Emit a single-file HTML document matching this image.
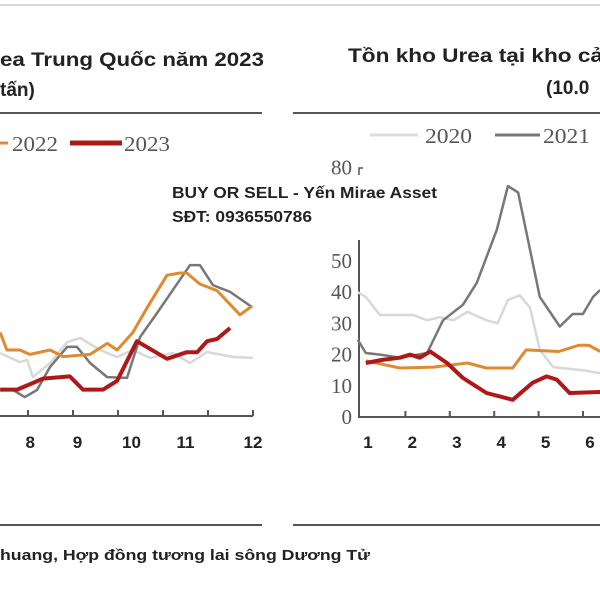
<!DOCTYPE html>
<html><head><meta charset="utf-8"><style>
body{margin:0;width:600px;height:600px;background:#fff;overflow:hidden}
svg{display:block}
.t{font-family:"Liberation Sans",sans-serif;font-weight:bold;fill:#222}
.s{font-family:"Liberation Serif",serif;fill:#555}
</style></head><body>
<svg id="c" width="600" height="600">
<line x1="0" y1="5" x2="600" y2="5" stroke="#ccc" stroke-width="1.5"/>
<text class="t" x="0" y="66" font-size="19" textLength="264" lengthAdjust="spacingAndGlyphs">ea Trung Quốc năm 2023</text>
<text class="t" x="0" y="96" font-size="19">tấn)</text>
<text class="t" x="348" y="62" font-size="19" textLength="255" lengthAdjust="spacingAndGlyphs">Tồn kho Urea tại kho cả</text>
<text class="t" x="546" y="94" font-size="19">(10.0</text>
<line x1="0" y1="113" x2="262" y2="113" stroke="#555" stroke-width="2"/>
<line x1="293" y1="113" x2="600" y2="113" stroke="#555" stroke-width="2"/>
<line x1="0" y1="525" x2="262" y2="525" stroke="#555" stroke-width="2"/>
<line x1="293" y1="525" x2="600" y2="525" stroke="#555" stroke-width="2"/>
<g>
<line x1="0" y1="143" x2="8" y2="143" stroke="#e08a30" stroke-width="3"/>
<text class="s" x="12" y="151" font-size="21" textLength="46" lengthAdjust="spacingAndGlyphs">2022</text>
<line x1="70" y1="143" x2="122" y2="143" stroke="#b01818" stroke-width="5"/>
<text class="s" x="124" y="151" font-size="21" textLength="46" lengthAdjust="spacingAndGlyphs">2023</text>
</g>
<g>
<line x1="370" y1="135" x2="418" y2="135" stroke="#ddd" stroke-width="3"/>
<text class="s" x="425" y="143" font-size="21" textLength="47" lengthAdjust="spacingAndGlyphs">2020</text>
<line x1="495" y1="135" x2="540" y2="135" stroke="#777" stroke-width="3"/>
<text class="s" x="543" y="143" font-size="21" textLength="47" lengthAdjust="spacingAndGlyphs">2021</text>
</g>
<g id="L"></g>
<g id="R"></g>
<text class="t" x="172" y="198" font-size="16" textLength="265" lengthAdjust="spacingAndGlyphs">BUY OR SELL - Yến Mirae Asset</text>
<text class="t" x="172" y="222" font-size="16" textLength="140" lengthAdjust="spacingAndGlyphs">SĐT: 0936550786</text>
<text class="t" x="0" y="560" font-size="15" textLength="370" lengthAdjust="spacingAndGlyphs">huang, Hợp đồng tương lai sông Dương Tử</text>
</svg>
<script>
// Left chart (month position, value units)
const leftTicks=["8","9","10","11","12"];
const l2020x=[7.38,7.82,7.98,8.11,8.49,8.87,9.16,9.60,9.98,10.33,10.71,11.22,11.60,11.98,12.56,13.0];
const l2020v=[28.6,24.5,25.5,17.7,24.1,33.6,35.5,30,26.8,30,26.4,28.6,24.1,29.1,26.8,26.4];
const l2021x=[7.67,7.93,8.20,8.49,8.87,9.09,9.38,9.76,10.20,10.49,10.87,11.22,11.60,11.82,12.11,12.49,12.98];
const l2021v=[11.8,8.6,11.8,22.3,31.4,31.4,24.1,17.7,17.3,35.9,46.8,57.3,68.6,68.6,59.5,56.4,49.5];
const l2022x=[7.38,7.53,7.82,8.04,8.49,8.78,9.38,9.76,9.98,10.33,10.64,11.09,11.38,11.53,11.82,12.20,12.71,12.98];
const l2022v=[38,30,30,28,30,27,28,33,30,38,49,64,65,65,60,57,46,50];
const l2023x=[7.38,7.76,8.11,8.33,8.93,9.22,9.67,9.98,10.42,11.09,11.53,11.76,11.98,12.20,12.49];
const l2023v=[12,12,15,17,18,12,12,16,34,26,29,29,34,35,40];
// Right chart
const rTicks=["1","2","3","4","5","6"];
const rY=[0,10,20,30,40,50,80];
const r2020x=[0.77,0.95,1.27,2.02,2.33,2.62,2.92,3.24,3.67,3.92,4.15,4.42,4.65,4.87,5.17,5.84,6.23];
const r2020v=[40,38.5,32.7,32.7,31,32,31,33.7,31,30,37.5,39,35,21.5,16,15,14];
const r2021x=[0.77,0.95,1.27,1.72,2.33,2.69,3.14,3.45,3.90,4.15,4.38,4.65,4.87,5.32,5.61,5.84,6.07,6.23];
const r2021v=[24.7,20.5,20,19,20.5,31,36,43,60,74,72,53.5,38.5,29,33,33,38.5,40.7];
const r2022x=[0.95,1.72,2.47,3.24,3.67,4.26,4.56,5.30,5.75,5.97,6.23];
const r2022v=[18,15.7,16,17.3,15.7,15.7,21.5,21,23,23,21];
const r2023x=[0.95,1.32,1.72,1.95,2.17,2.40,2.78,3.14,3.67,4.26,4.71,5.02,5.25,5.54,6.23];
const r2023v=[17.3,18.3,19,20,19,21,17.3,12.5,7.7,5.5,11,13,12,7.7,8];

const NS="http://www.w3.org/2000/svg";
function mk(p,t,a){const e=document.createElementNS(NS,t);for(const k in a)e.setAttribute(k,a[k]);p.appendChild(e);return e;}
const Lx=m=>28+(m-8)*45, Ly=v=>416-v*2.2;
const Rx=m=>368+(m-1)*44.4, Ry=v=>417-v*3.12;
const L=document.getElementById('L'), R=document.getElementById('R');
function line(g,xs,vs,fx,fy,col,w,name){
  const d=xs.map((x,i)=>(i?'L':'M')+fx(x).toFixed(1)+','+fy(vs[i]).toFixed(1)).join('');
  const p=mk(g,'path',{d:d,fill:'none',stroke:col,'stroke-width':w,'stroke-linejoin':'round'});
  
  
}
// left axis
const la=mk(L,'line',{x1:0,y1:416,x2:253,y2:416,stroke:'#555','stroke-width':2});


[8,9,10,11,12,13].forEach(m=>mk(L,'line',{x1:Lx(m),y1:410,x2:Lx(m),y2:416,stroke:'#555','stroke-width':2}));
const lblOff=[0.05,0.1,0.3,0.5,1.0];
leftTicks.forEach((t,i)=>{const m=8+i+lblOff[i];
  const tx=mk(L,'text',{x:Lx(m),y:448,'text-anchor':'middle','font-size':17,class:'t'});tx.textContent=t;
  
  
});
line(L,l2020x,l2020v,Lx,Ly,'#d8d8d8',2.5,'left-line-2020');
line(L,l2021x,l2021v,Lx,Ly,'#777',2.5,'left-line-2021');
line(L,l2022x,l2022v,Lx,Ly,'#e08a30',3,'left-line-2022');
line(L,l2023x,l2023v,Lx,Ly,'#b01818',4,'left-line-2023');
// right axes
const ra=mk(R,'path',{d:'M359,240L359,417L600,417',fill:'none',stroke:'#555','stroke-width':2});


mk(R,'path',{d:'M359,175L359,168L363,168',fill:'none',stroke:'#555','stroke-width':1.5});
rY.forEach(v=>{const tx=mk(R,'text',{x:352,y:Ry(v)+7,'text-anchor':'end','font-size':21,class:'s'});tx.textContent=v;
  
  });
rTicks.forEach((t,i)=>{const m=1+i;
  if(i>0)mk(R,'line',{x1:Rx(m)-7,y1:411,x2:Rx(m)-7,y2:417,stroke:'#555','stroke-width':2});
  const tx=mk(R,'text',{x:Rx(m),y:448,'text-anchor':'middle','font-size':17,class:'t'});tx.textContent=t;
  
  
});
line(R,r2020x,r2020v,Rx,Ry,'#d8d8d8',2.5,'right-line-2020');
line(R,r2021x,r2021v,Rx,Ry,'#777',2.5,'right-line-2021');
line(R,r2022x,r2022v,Rx,Ry,'#e08a30',3,'right-line-2022');
line(R,r2023x,r2023v,Rx,Ry,'#b01818',4,'right-line-2023');
</script>
</body></html>
